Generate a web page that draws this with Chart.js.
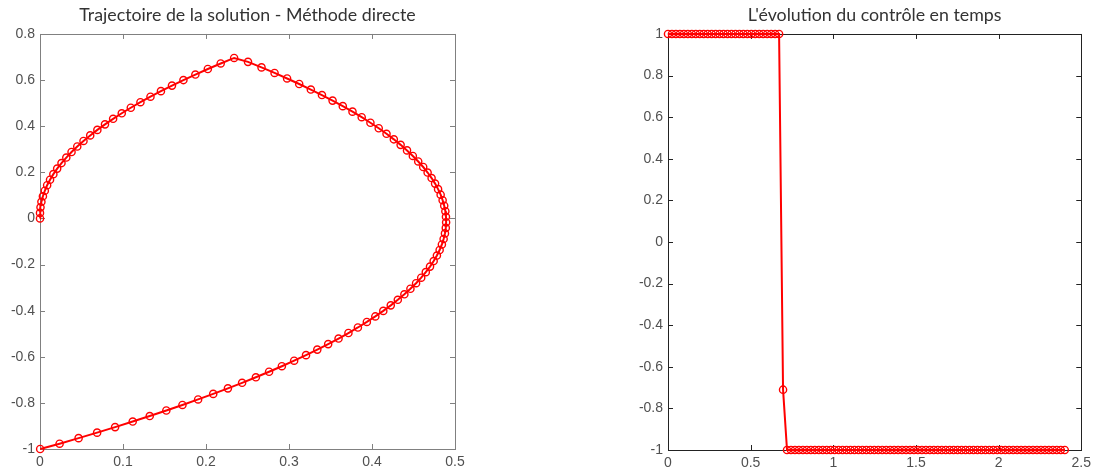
<!DOCTYPE html>
<html>
<head>
<meta charset="utf-8">
<script src="https://cdn.jsdelivr.net/npm/chart.js@4.4.0/dist/chart.umd.min.js"></script>
<style>
  body { margin: 0; background: #fff; }
  #wrap { position: relative; width: 1096px; height: 476px; }
  canvas { position: absolute; top: 0; }
</style>
</head>
<body>
<div id="wrap">
  <canvas id="trajChart" width="548" height="476" style="left:0"></canvas>
  <canvas id="ctrlChart" width="548" height="476" style="left:548px"></canvas>
</div>
<script>
// Trajectoire (x1, x2) - méthode directe
var x1 = [
  0, 0, 0.0006, 0.0017, 0.0035, 0.0058, 0.0086, 0.0121, 0.0161, 0.0207,
  0.0259, 0.0317, 0.038, 0.0449, 0.0524, 0.0605, 0.0691, 0.0783, 0.0881, 0.0985,
  0.1094, 0.121, 0.1331, 0.1457, 0.159, 0.1728, 0.1872, 0.2022, 0.2177, 0.2339,
  0.2506, 0.2669, 0.2826, 0.2977, 0.3123, 0.3263, 0.3397, 0.3525, 0.3648, 0.3765,
  0.3876, 0.3981, 0.4081, 0.4175, 0.4263, 0.4345, 0.4422, 0.4492, 0.4557, 0.4617,
  0.467, 0.4718, 0.476, 0.4796, 0.4827, 0.4851, 0.487, 0.4884, 0.4891, 0.4893,
  0.4889, 0.4879, 0.4863, 0.4842, 0.4815, 0.4782, 0.4743, 0.4699, 0.4648, 0.4593,
  0.4531, 0.4463, 0.439, 0.4311, 0.4226, 0.4136, 0.404, 0.3938, 0.383, 0.3716,
  0.3597, 0.3472, 0.3341, 0.3205, 0.3062, 0.2914, 0.276, 0.2601, 0.2435, 0.2264,
  0.2087, 0.1905, 0.1716, 0.1522, 0.1322, 0.1117, 0.0905, 0.0688, 0.0465, 0.0236,
  0.0002
];
var x2 = [
  0, 0.024, 0.048, 0.072, 0.096, 0.12, 0.144, 0.168, 0.192, 0.216,
  0.24, 0.264, 0.288, 0.312, 0.336, 0.36, 0.384, 0.408, 0.432, 0.456,
  0.48, 0.504, 0.528, 0.552, 0.576, 0.6, 0.624, 0.648, 0.672, 0.696,
  0.679, 0.655, 0.631, 0.607, 0.583, 0.559, 0.535, 0.511, 0.487, 0.463,
  0.439, 0.415, 0.391, 0.367, 0.343, 0.319, 0.295, 0.271, 0.247, 0.223,
  0.199, 0.175, 0.151, 0.127, 0.103, 0.079, 0.055, 0.031, 0.007, -0.017,
  -0.041, -0.065, -0.089, -0.113, -0.137, -0.161, -0.185, -0.209, -0.233, -0.257,
  -0.281, -0.305, -0.329, -0.353, -0.377, -0.401, -0.425, -0.449, -0.473, -0.497,
  -0.521, -0.545, -0.569, -0.593, -0.617, -0.641, -0.665, -0.689, -0.713, -0.737,
  -0.761, -0.785, -0.809, -0.833, -0.857, -0.881, -0.905, -0.929, -0.953, -0.977,
  -1.0
];

// Contrôle u(t)
var temps = [
  0, 0.024, 0.048, 0.072, 0.096, 0.12, 0.144, 0.168, 0.192, 0.216,
  0.24, 0.264, 0.288, 0.312, 0.336, 0.36, 0.384, 0.408, 0.432, 0.456,
  0.48, 0.504, 0.528, 0.552, 0.576, 0.6, 0.624, 0.648, 0.672, 0.696,
  0.72, 0.744, 0.768, 0.792, 0.816, 0.84, 0.864, 0.888, 0.912, 0.936,
  0.96, 0.984, 1.008, 1.032, 1.056, 1.08, 1.104, 1.128, 1.152, 1.176,
  1.2, 1.224, 1.248, 1.272, 1.296, 1.32, 1.344, 1.368, 1.392, 1.416,
  1.44, 1.464, 1.488, 1.512, 1.536, 1.56, 1.584, 1.608, 1.632, 1.656,
  1.68, 1.704, 1.728, 1.752, 1.776, 1.8, 1.824, 1.848, 1.872, 1.896,
  1.92, 1.944, 1.968, 1.992, 2.016, 2.04, 2.064, 2.088, 2.112, 2.136,
  2.16, 2.184, 2.208, 2.232, 2.256, 2.28, 2.304, 2.328, 2.352, 2.376,
  2.4
];
var controle = [
  1, 1, 1, 1, 1, 1, 1, 1, 1, 1,
  1, 1, 1, 1, 1, 1, 1, 1, 1, 1,
  1, 1, 1, 1, 1, 1, 1, 1, 1, -0.71,
  -1, -1, -1, -1, -1, -1, -1, -1, -1, -1,
  -1, -1, -1, -1, -1, -1, -1, -1, -1, -1,
  -1, -1, -1, -1, -1, -1, -1, -1, -1, -1,
  -1, -1, -1, -1, -1, -1, -1, -1, -1, -1,
  -1, -1, -1, -1, -1, -1, -1, -1, -1, -1,
  -1, -1, -1, -1, -1, -1, -1, -1, -1, -1,
  -1, -1, -1, -1, -1, -1, -1, -1, -1, -1,
  -1
];

// Graduations
var trajXTicks = [0, 0.1, 0.2, 0.3, 0.4, 0.5];
var trajXLabels = ['0', '0.1', '0.2', '0.3', '0.4', '0.5'];
var trajYTicks = [-1, -0.8, -0.6, -0.4, -0.2, 0, 0.2, 0.4, 0.6, 0.8];
var trajYLabels = ['-1', '-0.8', '-0.6', '-0.4', '-0.2', '0', '0.2', '0.4', '0.6', '0.8'];
var ctrlXTicks = [0, 0.5, 1, 1.5, 2, 2.5];
var ctrlXLabels = ['0', '0.5', '1', '1.5', '2', '2.5'];
var ctrlYTicks = [-1, -0.8, -0.6, -0.4, -0.2, 0, 0.2, 0.4, 0.6, 0.8, 1];
var ctrlYLabels = ['-1', '-0.8', '-0.6', '-0.4', '-0.2', '0', '0.2', '0.4', '0.6', '0.8', '1'];

function toPoints(xs, ys) {
  var pts = [];
  for (var i = 0; i < xs.length; i++) {
    pts.push({ x: xs[i], y: ys[i] });
  }
  return pts;
}

// Cadre + graduations vers l'intérieur, façon Matlab
var cadreMatlab = {
  id: 'cadreMatlab',
  beforeDatasetsDraw: function(chart, args, opts) {
    var a = chart.chartArea;
    var ctx = chart.ctx;
    var xs = chart.scales.x, ys = chart.scales.y;
    ctx.save();
    ctx.strokeStyle = opts.color;
    ctx.lineWidth = 1;
    ctx.strokeRect(Math.round(a.left) + 0.5, Math.round(a.top) + 0.5,
                   Math.round(a.right - a.left), Math.round(a.bottom - a.top));
    ctx.beginPath();
    xs.ticks.forEach(function(t) {
      var px = Math.round(xs.getPixelForValue(t.value)) + 0.5;
      ctx.moveTo(px, a.bottom); ctx.lineTo(px, a.bottom - 5);
      ctx.moveTo(px, a.top); ctx.lineTo(px, a.top + 5);
    });
    ys.ticks.forEach(function(t) {
      var py = Math.round(ys.getPixelForValue(t.value)) + 0.5;
      ctx.moveTo(a.left, py); ctx.lineTo(a.left + 5, py);
      ctx.moveTo(a.right, py); ctx.lineTo(a.right - 5, py);
    });
    ctx.stroke();
    ctx.restore();
  }
};

function makeScale(min, max, ticks, labels, size) {
  return {
    type: 'linear',
    min: min,
    max: max,
    grid: { display: false, drawTicks: false },
    border: { display: false },
    afterBuildTicks: function(scale) {
      scale.ticks = ticks.map(function(v) { return { value: v }; });
    },
    afterFit: function(scale) {
      if (scale.isHorizontal()) scale.height = size; else scale.width = size;
    },
    ticks: {
      color: '#505050',
      font: { family: 'Liberation Sans', size: 14 },
      padding: 5,
      callback: function(value, index) { return labels[index]; }
    }
  };
}

function makeChart(id, title, points, xScale, yScale, padding, axisColor) {
  return new Chart(document.getElementById(id).getContext('2d'), {
    type: 'scatter',
    data: {
      datasets: [{
        data: points,
        showLine: true,
        borderColor: '#ff0000',
        borderWidth: 2,
        pointRadius: 3.6,
        pointBorderWidth: 1.4,
        pointBorderColor: '#ff0000',
        pointBackgroundColor: 'rgba(255,255,255,0)',
        clip: false
      }]
    },
    options: {
      responsive: false,
      animation: false,
      layout: { padding: padding },
      scales: { x: xScale, y: yScale },
      plugins: {
        legend: { display: false },
        tooltip: { enabled: false },
        title: {
          display: true,
          fullSize: false,
          text: title,
          color: '#333333',
          font: { family: 'Lato', size: 17.8, weight: 'normal', lineHeight: 1.2 },
          padding: { top: 5, bottom: 7.6 }
        },
        cadreMatlab: { color: axisColor }
      }
    },
    plugins: [cadreMatlab]
  });
}

makeChart('trajChart', 'Trajectoire de la solution - Méthode directe',
  toPoints(x1, x2),
  makeScale(0, 0.5, trajXTicks, trajXLabels, 27),
  makeScale(-1, 0.8, trajYTicks, trajYLabels, 40),
  { left: 0, right: 93, top: 0, bottom: 0 }, '#808080');

makeChart('ctrlChart', "L'évolution du contrôle en temps",
  toPoints(temps, controle),
  makeScale(0, 2.5, ctrlXTicks, ctrlXLabels, 26),
  makeScale(-1, 1, ctrlYTicks, ctrlYLabels, 120),
  { left: 0, right: 13, top: 0, bottom: 0 }, '#222222');
</script>
</body>
</html>
